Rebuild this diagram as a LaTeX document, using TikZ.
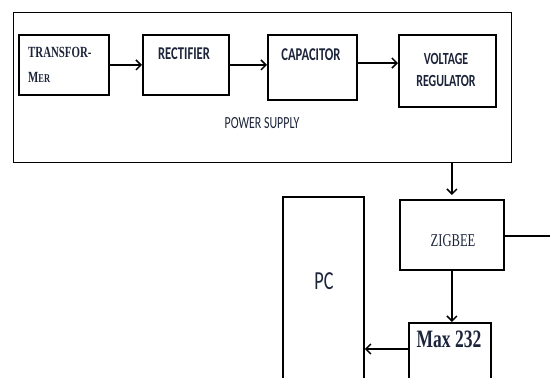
\documentclass[tikz,border=0pt]{standalone}
\usepackage{fontspec}
\setmainfont{Carlito}
\newfontfamily\narrowsans[FakeStretch=0.7]{Carlito}
\newfontfamily\narrowserif[FakeStretch=0.7]{Liberation Serif}
\usetikzlibrary{arrows.meta}
\definecolor{txtblue}{RGB}{28,36,58}

\begin{document}
\begin{tikzpicture}[x=1pt,y=-1pt,
    blk/.style={draw,line width=1.8pt,inner sep=0pt,anchor=north west},
    lbl/.style={text=txtblue,inner sep=0pt,align=center},
    conn/.style={line width=1.5pt,-{Straight Barb[length=5pt,width=10pt]}}]
    \useasboundingbox (0,0) rectangle (550,378);
    \clip (0,0) rectangle (550,378);

    % --- Power supply ---
    \node[draw,line width=0.9pt,inner sep=0pt,anchor=north west,
          minimum width=498,minimum height=150] (pwr) at (13,12) {};
    \node[blk,minimum width=90,minimum height=60] (trans) at (18,34) {};
    \node[blk,minimum width=86,minimum height=60] (rect) at (142,34) {};
    \node[blk,minimum width=89,minimum height=65] (cap) at (267,34) {};
    \node[blk,minimum width=97,minimum height=72] (vreg) at (398,34) {};

    \node[lbl,anchor=west,align=left,font=\narrowserif\bfseries\fontsize{15.5}{25}\selectfont]
      (transtxt) at (28,65) {TRANSFOR-\\M{\fontsize{12}{14}\selectfont ER}};
    \node[lbl,font=\narrowsans\bfseries\fontsize{18}{20}\selectfont] (recttxt) at (184,54) {RECTIFIER};
    \node[lbl,font=\narrowsans\bfseries\fontsize{18}{20}\selectfont] (captxt) at (311,55) {CAPACITOR};
    \node[lbl,font=\narrowsans\bfseries\fontsize{17}{22}\selectfont] (vregtxt) at (446,70) {VOLTAGE\\REGULATOR};
    \node[lbl,font=\narrowsans\fontsize{17}{20}\selectfont] (pwrtxt) at (262,123) {POWER SUPPLY};

    \coordinate (cv) at (300,63);
    \draw[conn] (trans.east) -- (rect.west);
    \draw[conn] (rect.east) -- (cap.west |- rect.east);
    \draw[conn] (cap.east |- cv) -- (vreg.west |- cv);

    % --- Receiver side ---
    \node[blk,minimum width=104,minimum height=70] (zig) at (399,199) {};
    \node[blk,minimum width=82,minimum height=90] (max) at (408,322) {};
    \node[blk,minimum width=81,minimum height=240] (pc) at (282,196) {};

    \node[lbl,font=\narrowserif\fontsize{18}{20}\selectfont] (zigtxt) at (453,241) {ZIGBEE};
    \node[lbl,font=\narrowserif\bfseries\fontsize{25}{27}\selectfont] (maxtxt) at (449,339) {Max 232};
    \node[lbl,font=\narrowsans\fontsize{26}{28}\selectfont] (pctxt) at (324,281) {PC};

    \coordinate (zout) at (552,236);
    \coordinate (mx) at (408,349);
    \draw[conn] (zig.north |- pwr.south) -- ([yshift=4]zig.north);
    \draw[line width=1.5pt] (zig.east |- zout) -- (zout);
    \draw[conn] (zig.south) -- (zig.south |- max.north);
    \draw[conn] (mx) -- (mx -| pc.east);
\end{tikzpicture}
\end{document}
